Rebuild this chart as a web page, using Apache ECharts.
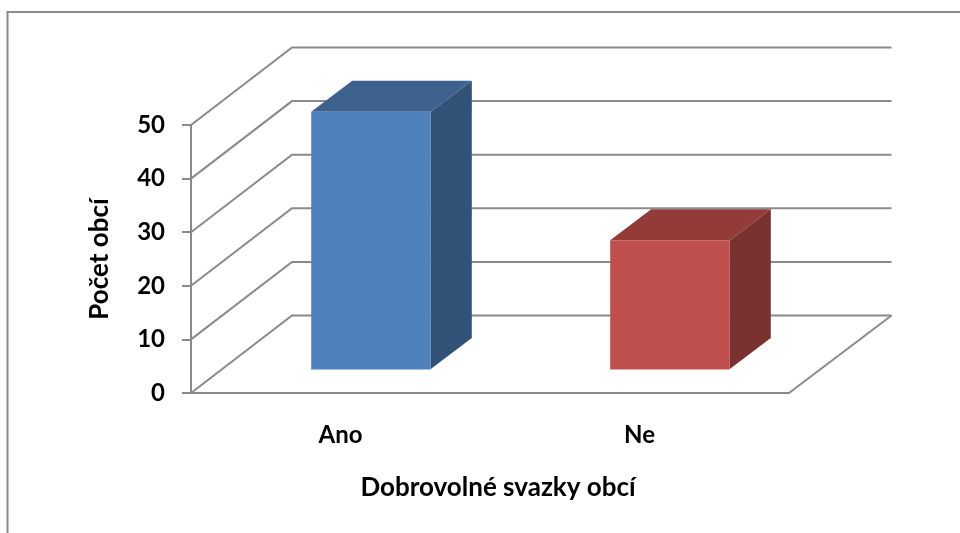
<!DOCTYPE html>
<html>
<head>
<meta charset="utf-8">
<style>html,body{margin:0;padding:0;background:#fff}#c{width:960px;height:533px}</style>
<script src="https://cdn.jsdelivr.net/npm/echarts@6/dist/echarts.min.js"></script>
</head>
<body>
<div id="c"></div>
<script>
const categories = ['Ano', 'Ne'];
const counts = [48, 24];
const yTicks = [0, 10, 20, 30, 40, 50];
const xTitle = 'Dobrovolné svazky obcí';
const yTitle = 'Počet obcí';

const LINE = '#8a8a8a';
const LW = 2;
const FONT = 'Lato, "Open Sans", sans-serif';
const WALL_DX = 101, WALL_DY = 77.5;
const BAR_SHIFT_X = 30.5, BAR_SHIFT_Y = 24, BAR_DX = 41, BAR_DY = 31;
const FACES = [
  {front: '#4F81BD', top: '#3D628E', side: '#325277', base: '#A9C0DE'},
  {front: '#C0504D', top: '#933B39', side: '#7A3230', base: '#E3A9A7'}
];

const chart = echarts.init(document.getElementById('c'), null, {renderer: 'canvas'});

function renderGrid(params, api) {
  const r = params.coordSys;
  const y = api.coord([0, api.value(0)])[1];
  const x0 = r.x, x1 = r.x + r.width;
  const children = [{
    type: 'polyline',
    shape: {points: [[x0, y], [x0 + WALL_DX, y - WALL_DY], [x1 + WALL_DX + 1.5, y - WALL_DY]]},
    style: {stroke: LINE, lineWidth: LW, fill: null}
  }];
  if (api.value(0) === 0) {
    children.push({
      type: 'line',
      shape: {x1: x1, y1: y, x2: x1 + WALL_DX + 1.5, y2: y - WALL_DY},
      style: {stroke: LINE, lineWidth: LW}
    });
  }
  return {type: 'group', children};
}

function renderBar(params, api) {
  const i = api.value(0);
  const base = api.coord([i, 0]);
  const top = api.coord([i, api.value(1)]);
  const w = api.size([1, 0])[0] * 0.4;
  const f = FACES[i];
  const xl = base[0] - w / 2 + BAR_SHIFT_X, xr = xl + w;
  const yb = base[1] - BAR_SHIFT_Y, yt = top[1] - BAR_SHIFT_Y;
  return {type: 'group', children: [
    {type: 'polygon', shape: {points: [[xr, yt], [xr + BAR_DX, yt - BAR_DY], [xr + BAR_DX, yb - BAR_DY], [xr, yb]]}, style: {fill: f.side}},
    {type: 'polygon', shape: {points: [[xl, yt], [xl + BAR_DX, yt - BAR_DY], [xr + BAR_DX, yt - BAR_DY], [xr, yt]]}, style: {fill: f.top}},
    {type: 'rect', shape: {x: xl, y: yt, width: w, height: yb - yt}, style: {fill: f.front}},
    {type: 'line', shape: {x1: xl, y1: yb + 0.5, x2: xr, y2: yb + 0.5}, style: {stroke: f.base, lineWidth: 1}}
  ]};
}

chart.setOption({
  animation: false,
  backgroundColor: '#fff',
  graphic: [{
    type: 'polyline', silent: true,
    shape: {points: [[7.5, 533], [7.5, 12], [960, 12]]},
    style: {stroke: LINE, lineWidth: LW, fill: null}
  }],
  grid: {left: 191, top: 125, width: 598, height: 268},
  xAxis: {
    type: 'category',
    data: categories,
    axisLine: {show: true, lineStyle: {color: LINE, width: LW}},
    axisTick: {show: false},
    axisLabel: {color: '#000', fontFamily: FONT, fontSize: 24, fontWeight: 'bold', margin: 30},
    name: xTitle,
    nameLocation: 'middle',
    nameGap: 82,
    nameTextStyle: {color: '#000', fontFamily: FONT, fontSize: 26, fontWeight: 'bold', padding: [0, 0, 0, 16]}
  },
  yAxis: {
    type: 'value',
    min: 0, max: 50, interval: 10,
    axisLine: {show: true, lineStyle: {color: LINE, width: LW}},
    axisTick: {show: true, length: 9, lineStyle: {color: LINE, width: LW}},
    splitLine: {show: false},
    axisLabel: {color: '#000', fontFamily: FONT, fontSize: 24, fontWeight: 'bold', margin: 26},
    name: yTitle,
    nameLocation: 'middle',
    nameGap: 78,
    nameRotate: 90,
    nameTextStyle: {color: '#000', fontFamily: FONT, fontSize: 26, fontWeight: 'bold'}
  },
  series: [
    {type: 'custom', silent: true, z: 1, data: yTicks.map(v => [v]), renderItem: renderGrid, encode: {y: 0}},
    {type: 'custom', silent: true, z: 2, data: counts.map((v, i) => [i, v]), renderItem: renderBar, encode: {x: 0, y: 1}}
  ]
});
</script>
</body>
</html>
